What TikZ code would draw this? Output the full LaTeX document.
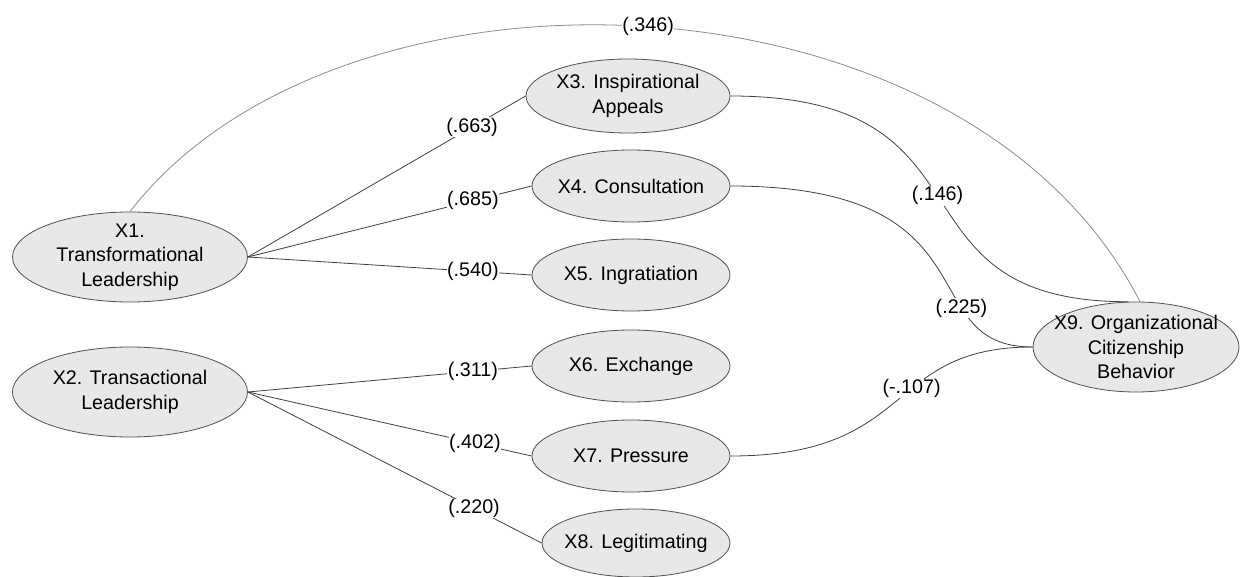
\documentclass[tikz,border=0pt]{standalone}
\usepackage{fontspec}
\setmainfont{Liberation Sans}
\usetikzlibrary{shapes.geometric}
\definecolor{ellfill}{HTML}{E8E8E8}
\definecolor{ellline}{HTML}{505050}
\definecolor{conn}{HTML}{404040}
\definecolor{arcgray}{HTML}{8C8C8C}
\tikzset{
  ell/.style={ellipse, draw=ellline, fill=ellfill, line width=0.8pt, inner sep=0pt},
  txt/.style={align=center, font=\fontsize{19.7}{24.5}\selectfont},
  lbl/.style={fill=white, inner sep=0.5pt, font=\fontsize{19.7}{24}\selectfont},
  conline/.style={draw=conn, line width=0.8pt},
  arcline/.style={draw=arcgray, line width=0.8pt}
}
\begin{document}
\begin{tikzpicture}[x=1pt,y=-1pt]
\useasboundingbox (0,0) rectangle (1240,577);
% nodes
\node[ell, minimum width=235pt, minimum height=90pt, label={[txt]center:X1.\\Transformational\\Leadership}] (x1) at (130,257) {};
\node[ell, minimum width=235pt, minimum height=90pt, label={[txt]center:X2. Transactional\\Leadership}] (x2) at (130,392) {};
\node[ell, minimum width=204pt, minimum height=74pt, label={[txt]center:X3. Inspirational\\Appeals}] (x3) at (628,96) {};
\node[ell, minimum width=198pt, minimum height=72pt, label={[txt]center:X4. Consultation}] (x4) at (631,186) {};
\node[ell, minimum width=198pt, minimum height=72pt, label={[txt]center:X5. Ingratiation}] (x5) at (631,275) {};
\node[ell, minimum width=198pt, minimum height=72pt, label={[txt]center:X6. Exchange}] (x6) at (631,366) {};
\node[ell, minimum width=198pt, minimum height=72pt, label={[txt]center:X7. Pressure}] (x7) at (631,456) {};
\node[ell, minimum width=188pt, minimum height=68pt, label={[txt]center:X8. Legitimating}] (x8) at (636,543) {};
\node[ell, minimum width=206pt, minimum height=90pt, label={[txt]center:X9. Organizational\\Citizenship\\Behavior}] (x9) at (1136,347) {};
% straight connectors
\draw[conline] (x1.east) -- node[lbl, pos=0.807] {(.663)} (x3.west);
\draw[conline] (x1.east) -- node[lbl, pos=0.793] {(.685)} (x4.west);
\draw[conline] (x1.east) -- node[lbl, pos=0.793] {(.540)} (x5.west);
\draw[conline] (x2.east) -- node[lbl, pos=0.793] {(.311)} (x6.west);
\draw[conline] (x2.east) -- node[lbl, pos=0.80] {(.402)} (x7.west);
\draw[conline] (x2.east) -- node[lbl, pos=0.77] {(.220)} (x8.west);
% curved connectors
\draw[arcline] (x1.north) .. controls (340,-60) and (965,-40) .. node[lbl, pos=0.5] {(.346)} (x9.85);
\draw[conline] (x3.east) .. controls (1006,96) and (880,302) .. node[lbl, pos=0.49] {(.146)} (x9.100);
\draw[conline] (x4.east) .. controls (1000,186) and (910,347) .. node[lbl, pos=0.68] {(.225)} (x9.west);
\draw[conline] (x7.east) .. controls (918,456) and (883,347) .. node[lbl, pos=0.58] {(-.107)} (x9.west);
\end{tikzpicture}
\end{document}
